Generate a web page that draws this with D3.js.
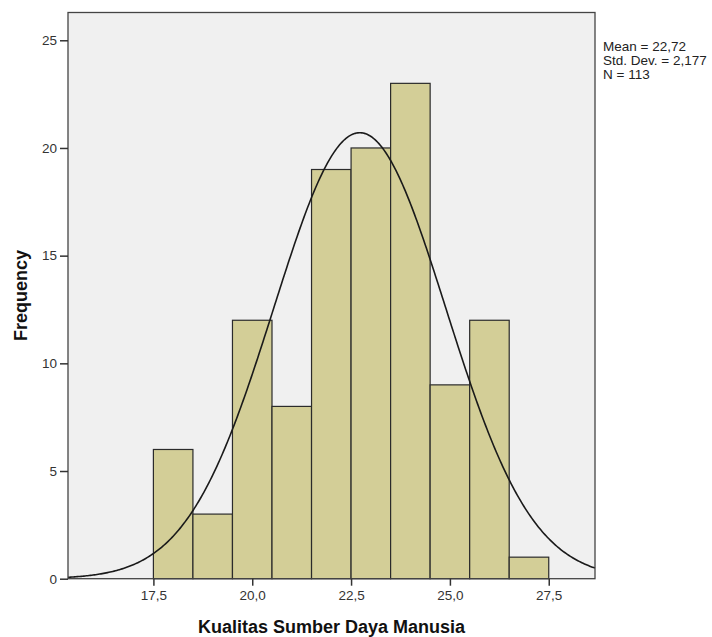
<!DOCTYPE html>
<html>
<head>
<meta charset="utf-8">
<script src="https://cdn.jsdelivr.net/npm/d3@7"></script>
<style>
  body { margin: 0; background: #fff; }
  text { font-family: "Liberation Sans", Arial, sans-serif; }
</style>
</head>
<body>
<div id="canvas"></div>
<script>
// histogram bins (lower edges), width 1
var binStarts = [17.5, 18.5, 19.5, 20.5, 21.5, 22.5, 23.5, 24.5, 25.5, 26.5];
var counts = [6, 3, 12, 8, 19, 20, 23, 9, 12, 1];
var binWidth = 1;
var xTicks = [17.5, 20.0, 22.5, 25.0, 27.5];
var yTicks = [0, 5, 10, 15, 20, 25];
var mean = 22.72, sd = 2.177, n = 113;
var statLines = ["Mean = 22,72", "Std. Dev. = 2,177", "N = 113"];

draw();

function draw(){
	var w = 712, h = 637;
	var left = 68, right = 595, top = 12.5, bottom = 578.7;

	var svg = d3.select("#canvas").append("svg")
		.attr("width", w)
		.attr("height", h);

	var x = d3.scaleLinear().domain([15.34, 28.67]).range([left, right]);
	var y = d3.scaleLinear().domain([0, 26.29]).range([bottom, top]);
	var comma = function(d){ return d3.format(".1f")(d).replace(".", ","); };

	svg.append("rect")
		.attr("x", left).attr("y", top)
		.attr("width", right - left).attr("height", bottom - top)
		.attr("fill", "#f0f0f0");

	// bars
	svg.selectAll("rect.bar")
		.data(counts)
		.join("rect")
		.attr("class", "bar")
		.attr("x", function(d, i){ return x(binStarts[i]); })
		.attr("y", function(d){ return y(d); })
		.attr("width", function(d, i){ return x(binStarts[i] + binWidth) - x(binStarts[i]); })
		.attr("height", function(d){ return y(0) - y(d); })
		.attr("fill", "#d3ce97")
		.attr("stroke", "#2b2b2b")
		.attr("stroke-width", 1.2);

	// normal curve from stats
	var pts = d3.range(0, 401).map(function(i){
		var v = 15.34 + (28.67 - 15.34) * i / 400;
		var z = (v - mean) / sd;
		return [v, n * binWidth * Math.exp(-0.5 * z * z) / (sd * Math.sqrt(2 * Math.PI))];
	});
	svg.append("path")
		.datum(pts)
		.attr("d", d3.line().x(function(d){ return x(d[0]); }).y(function(d){ return y(d[1]); }))
		.attr("fill", "none")
		.attr("stroke", "#1a1a1a")
		.attr("stroke-width", 1.6);

	// frame
	svg.append("rect")
		.attr("x", left).attr("y", top)
		.attr("width", right - left).attr("height", bottom - top)
		.attr("fill", "none")
		.attr("stroke", "#444")
		.attr("stroke-width", 1.3);

	var yAxis = svg.append("g")
		.attr("transform", "translate(" + left + ",0)")
		.call(d3.axisLeft(y).tickValues(yTicks).tickSize(8).tickPadding(3));
	var xAxis = svg.append("g")
		.attr("transform", "translate(0," + bottom + ")")
		.call(d3.axisBottom(x).tickValues(xTicks).tickFormat(comma).tickSize(7).tickPadding(5));
	[xAxis, yAxis].forEach(function(a){
		a.select(".domain").remove();
		a.selectAll("line").attr("stroke", "#333").attr("stroke-width", 1.5);
		a.selectAll("text").attr("fill", "#333").style("font-size", "13.5px")
			.style("font-family", "'Liberation Sans', Arial, sans-serif");
	});

	svg.append("text")
		.attr("x", (left + right) / 2).attr("y", 633)
		.attr("text-anchor", "middle")
		.style("font-size", "18px").style("font-weight", "bold")
		.attr("fill", "#111")
		.text("Kualitas Sumber Daya Manusia");

	svg.append("text")
		.attr("transform", "translate(27," + ((top + bottom) / 2) + ") rotate(-90)")
		.attr("text-anchor", "middle")
		.style("font-size", "18px").style("font-weight", "bold")
		.attr("fill", "#111")
		.text("Frequency");

	svg.selectAll("text.stat")
		.data(statLines)
		.join("text")
		.attr("class", "stat")
		.attr("x", 603)
		.attr("y", function(d, i){ return 51 + i * 14; })
		.style("font-size", "13.5px")
		.attr("fill", "#222")
		.text(function(d){ return d; });
}
</script>
</body>
</html>
